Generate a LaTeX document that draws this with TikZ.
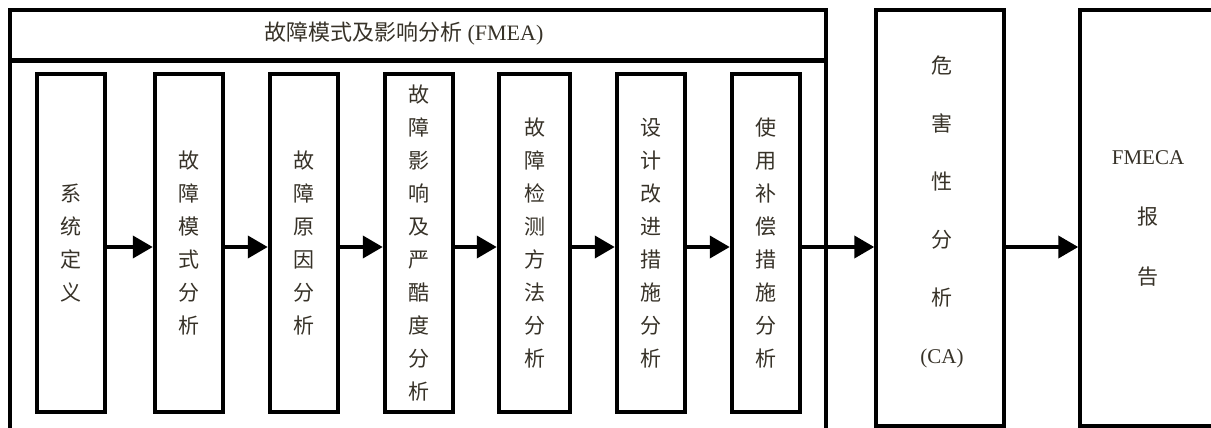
\documentclass[tikz,border=0pt]{standalone}
\usepackage{fontspec}
\setmainfont{Liberation Serif}
\newfontfamily\cjk{Noto Sans CJK SC}
\usetikzlibrary{arrows.meta}
\definecolor{txt}{RGB}{55,50,40}
\begin{document}
\begin{tikzpicture}[x=1pt,y=-1pt,
  stagebox/.style={draw, line width=4.5pt, minimum width=68pt, minimum height=338pt,
    inner sep=0pt, align=center, text=txt, font=\cjk\fontsize{21}{33}\selectfont},
  bigbox/.style={draw, line width=3.5pt, minimum width=128pt, minimum height=416pt,
    inner sep=0pt, align=center, text=txt, font=\cjk\fontsize{21}{58}\selectfont},
  flow/.style={line width=4pt, -{Triangle[length=20pt,width=22pt]}},
  latin/.style={font=\rmfamily\fontsize{21}{25}\selectfont}
]
\useasboundingbox (0,0) rectangle (1211,428);
\clip (0,0) rectangle (1211,428);
\fill[white] (0,0) rectangle (1211,428);
% outer FMEA frame
\node[draw, line width=4pt, minimum width=816pt, minimum height=440pt, inner sep=0pt] (fmea) at (418,230) {};
\draw[line width=5pt] (10,61) -- (826,61);
\node[text=txt, font=\cjk\fontsize{22}{26}\selectfont] (hdr) at (404,34) {故障模式及影响分析 {\rmfamily (FMEA)}};
% stages
\node[stagebox] (b1) at (71,243) {系\\统\\定\\义};
\node[stagebox] (b2) at (189,243) {故\\障\\模\\式\\分\\析};
\node[stagebox] (b3) at (304,243) {故\\障\\原\\因\\分\\析};
\node[stagebox] (b4) at (419,243) {故\\障\\影\\响\\及\\严\\酷\\度\\分\\析};
\node[stagebox, minimum width=71pt] (b5) at (534.5,243) {故\\障\\检\\测\\方\\法\\分\\析};
\node[stagebox] (b6) at (651,243) {设\\计\\改\\进\\措\\施\\分\\析};
\node[stagebox] (b7) at (766,243) {使\\用\\补\\偿\\措\\施\\分\\析};
% CA and report
\node[bigbox] (ca) at (940,218) {};
\node[text=txt, align=center, inner sep=0pt, font=\cjk\fontsize{21}{58}\selectfont] (catext) at (942,212) {危\\害\\性\\分\\析\\{\rmfamily (CA)}};
\node[bigbox, minimum width=136pt, font=\cjk\fontsize{21}{60}\selectfont] (rep) at (1148,218) {{\rmfamily FMECA}\\报\\告};
% arrows
\coordinate (ay) at (0,247);
\draw[flow] (b1.east |- ay) -- (b2.west |- ay);
\draw[flow] (b2.east |- ay) -- (b3.west |- ay);
\draw[flow] (b3.east |- ay) -- (b4.west |- ay);
\draw[flow] (b4.east |- ay) -- (b5.west |- ay);
\draw[flow] (b5.east |- ay) -- (b6.west |- ay);
\draw[flow] (b6.east |- ay) -- (b7.west |- ay);
\draw[flow] (b7.east |- ay) -- (ca.west |- ay);
\draw[flow] (ca.east |- ay) -- (rep.west |- ay);
\end{tikzpicture}
\end{document}
